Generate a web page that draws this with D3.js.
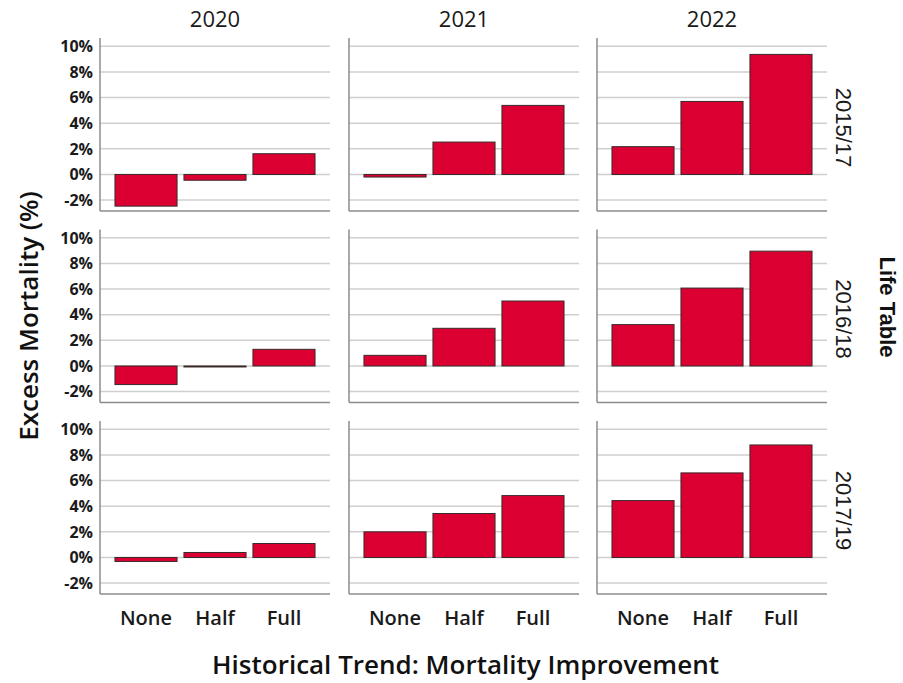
<!DOCTYPE html>
<html>
<head>
<meta charset="utf-8">
<script src="https://cdn.jsdelivr.net/npm/d3@7"></script>
<style>
  html, body { margin: 0; padding: 0; background: #fff; }
  svg { display: block; }
</style>
</head>
<body>
<svg id="chart" width="903" height="683"></svg>
<script>
// ---- data ----
const years = ["2020", "2021", "2022"];
const lifeTables = ["2015/17", "2016/18", "2017/19"];
const trends = ["None", "Half", "Full"];
const yTicks = [-2, 0, 2, 4, 6, 8, 10];
// excess mortality (%) — rows: years (2020, 2021, 2022), columns: trends (None, Half, Full)
const excess2015_17 = [[-2.47, -0.45, 1.62], [-0.20, 2.53, 5.39], [2.17, 5.70, 9.37]];
const excess2016_18 = [[-1.45, -0.05, 1.30], [0.83, 2.94, 5.07], [3.23, 6.08, 8.96]];
const excess2017_19 = [[-0.31, 0.39, 1.09], [2.00, 3.43, 4.83], [4.44, 6.60, 8.78]];
const excessByTable = [excess2015_17, excess2016_18, excess2017_19];

// ---- layout ----
const svg = d3.select("#chart");
const colX = [100, 349, 597];
const panelW = 230;
const rowTop0 = 38, rowStep = 191.5, panelH = 173;
const yDomain = [-2.85, 10.65];

const x = d3.scaleBand().domain(trends).range([0, panelW]).paddingInner(0.1).paddingOuter(0.217);

const barColor = "#dc0032";
const gridColor = "#cfcfcf";
const axisColor = "#8c8c8c";
const sansUI = "'Open Sans', 'Noto Sans', sans-serif";
const sansArial = "'Liberation Sans', Arial, sans-serif";

lifeTables.forEach((lt, r) => {
  const top = rowTop0 + r * rowStep;
  const y = d3.scaleLinear().domain(yDomain).range([top + panelH, top]);
  years.forEach((yr, c) => {
    const g = svg.append("g").attr("transform", `translate(${colX[c]},0)`);
    g.selectAll("line.grid").data(yTicks).join("line")
      .attr("x1", 0).attr("x2", panelW)
      .attr("y1", d => y(d)).attr("y2", d => y(d))
      .attr("stroke", gridColor).attr("stroke-width", 1.5);
    const vals = excessByTable[r][c];
    g.selectAll("rect.bar").data(trends.map((t, i) => ({ t, v: vals[i] }))).join("rect")
      .attr("x", d => x(d.t))
      .attr("width", x.bandwidth())
      .attr("y", d => y(Math.max(0, d.v)))
      .attr("height", d => Math.max(1, Math.abs(y(d.v) - y(0))))
      .attr("fill", barColor)
      .attr("stroke", "#3a2a2a").attr("stroke-width", 1);
    g.append("line").attr("x1", 0).attr("x2", 0).attr("y1", top).attr("y2", top + panelH)
      .attr("stroke", axisColor).attr("stroke-width", 1.5);
    g.append("line").attr("x1", 0).attr("x2", panelW).attr("y1", top + panelH).attr("y2", top + panelH)
      .attr("stroke", axisColor).attr("stroke-width", 1.5);
    if (c === 0) {
      g.selectAll("text.yt").data(yTicks).join("text")
        .attr("x", -7).attr("y", d => y(d)).attr("dy", "0.36em")
        .attr("text-anchor", "end")
        .attr("font-family", sansUI).attr("font-weight", 700).attr("font-size", 16)
        .attr("fill", "#1a1a1a")
        .text(d => d + "%");
    }
    if (r === lifeTables.length - 1) {
      g.selectAll("text.xt").data(trends).join("text")
        .attr("x", d => x(d) + x.bandwidth() / 2).attr("y", top + panelH + 31)
        .attr("text-anchor", "middle")
        .attr("font-family", sansUI).attr("font-weight", 600).attr("font-size", 20)
        .attr("fill", "#1a1a1a")
        .text(d => d);
    }
    if (r === 0) {
      g.append("text").attr("x", panelW / 2).attr("y", 27)
        .attr("text-anchor", "middle")
        .attr("font-family", sansUI).attr("font-weight", 500).attr("font-size", 22)
        .attr("fill", "#1a1a1a").text(yr);
    }
  });
  const cy = top + panelH / 2;
  svg.append("text")
    .attr("transform", `translate(844,${cy + 3}) rotate(90)`)
    .attr("text-anchor", "middle").attr("dy", "0.35em")
    .attr("font-family", sansArial).attr("font-size", 22)
    .attr("fill", "#1a1a1a").text(lt);
});

svg.append("text")
  .attr("transform", `translate(38,${(rowTop0 + rowTop0 + 2 * rowStep + panelH) / 2}) rotate(-90)`)
  .attr("text-anchor", "middle")
  .attr("font-family", sansUI).attr("font-weight", 600).attr("font-size", 26)
  .attr("fill", "#111").text("Excess Mortality (%)");

svg.append("text")
  .attr("transform", `translate(880,307) rotate(90)`)
  .attr("text-anchor", "middle")
  .attr("font-family", sansArial).attr("font-weight", 700).attr("font-size", 22)
  .attr("fill", "#111").text("Life Table");

svg.append("text")
  .attr("x", (colX[0] + colX[2] + panelW) / 2 + 2).attr("y", 674)
  .attr("text-anchor", "middle")
  .attr("font-family", sansUI).attr("font-weight", 600).attr("font-size", 26)
  .attr("fill", "#111").text("Historical Trend: Mortality Improvement");
</script>
</body>
</html>
